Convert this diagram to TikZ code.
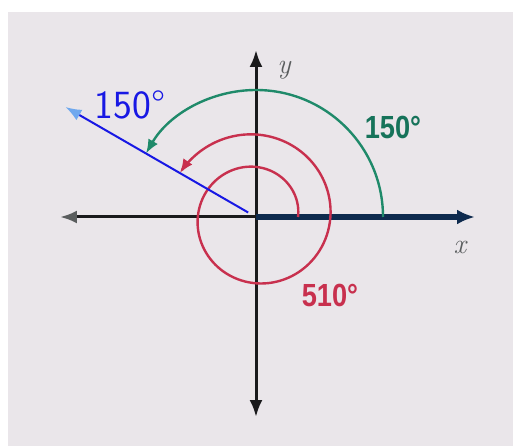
\documentclass[tikz,border=0pt]{standalone}
\usepackage{fontspec}
\usepackage{tikz}
\usetikzlibrary{arrows.meta,calc,positioning}
\newfontfamily\anglefont{Liberation Sans}[FakeStretch=0.85]
\definecolor{pagegray}{HTML}{EAE6EA}
\definecolor{axisblack}{HTML}{1A1A1C}
\definecolor{axisnavy}{HTML}{0E2A4E}
\definecolor{tipgray}{HTML}{5A5D5E}
\definecolor{anglegreen}{HTML}{1F8A6A}
\definecolor{labelgreen}{HTML}{16735A}
\definecolor{anglered}{HTML}{C8304E}
\definecolor{penblue}{HTML}{1818E4}
\definecolor{tipblue}{HTML}{6FA8EE}
\tikzset{
  axisline/.style={axisblack, -{Latex[length=17pt, width=13pt]}, line width=3pt},
  initialside/.style={axisnavy, -{Latex[length=18pt, width=15pt]}, line width=6pt},
  greenarc/.style={anglegreen, -{Latex[length=14pt, width=11pt]}, line width=2.4pt},
  redarc/.style={anglered, -{Latex[length=14pt, width=11pt]}, line width=2.4pt},
  terminalside/.style={penblue, -{Latex[length=16pt, width=12pt, color=tipblue]}, line width=2pt},
  axislabel/.style={font=\fontsize{28}{28}\selectfont\itshape, text=tipgray},
  anglelabel/.style={font=\anglefont\bfseries\fontsize{32}{32}\selectfont},
  penlabel/.style={font=\sffamily\fontsize{40}{40}\selectfont, text=penblue}
}
\begin{document}
\begin{tikzpicture}[x=1pt, y=1pt]
  \useasboundingbox (-256,-229) rectangle (257,217);
  \fill[pagegray] (-248,-229) rectangle (257,205);
  \coordinate (O) at (0,0);
  \coordinate (xneg) at (-196,0);
  \coordinate (xpos) at (219,0);
  \coordinate (ypos) at (0,167);
  \coordinate (yneg) at (0,-200);
  \coordinate (rayfoot) at (150:9);
  \coordinate (raytip) at (150:220);
  % axes
  \draw[axisline, -{Latex[length=17pt, width=13pt, color=tipgray]}] (O) -- (xneg);
  \draw[axisline] (O) -- (ypos);
  \draw[axisline] (O) -- (yneg);
  \draw[initialside] (O) -- (xpos);
  \node[axislabel] (ylab) at (28,147) {y};
  \node[axislabel] (xlab) at (204,-30) {x};
  % 150 and 510 degrees
  \draw[greenarc] (0:127) arc[start angle=0, end angle=150, radius=127];
  \draw[redarc] plot[domain=0:510, samples=150, smooth] ({(42+0.09*\x)*cos(\x)},{(42+0.09*\x)*sin(\x)});
  \node[anglelabel, text=labelgreen] (greenlab) at (137,90) {150°};
  \node[anglelabel, text=anglered] (redlab) at (74,-78) {510°};
  % terminal side
  \draw[terminalside] (rayfoot) -- (raytip);
  \node[penlabel] (penlab) at (-126,112) {150°};
\end{tikzpicture}
\end{document}
